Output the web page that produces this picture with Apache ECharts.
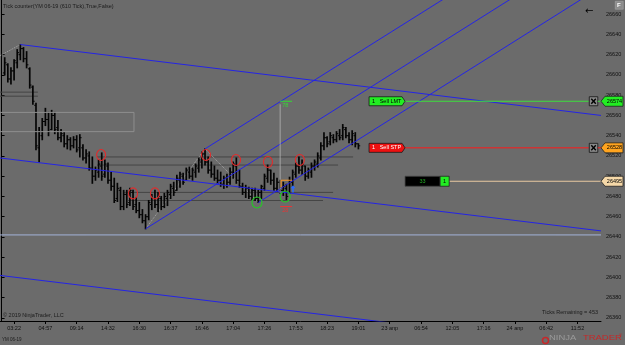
<!DOCTYPE html>
<html><head><meta charset="utf-8">
<script src="https://cdn.jsdelivr.net/npm/echarts@6/dist/echarts.min.js"></script>
<style>html,body{margin:0;padding:0;background:#6b6b6b;}#c{width:625px;height:345px;}</style>
</head><body><div id="c"></div>
<script>
// ---- axis ticks ----
const tickSlots = [4,14,24,34,44,54,64,74,84,94,104,114,124,134,144,154,164,174,184];
const tickLabels = ['03:22','04:57','09:14','14:32','16:30','16:37','16:46','17:04','17:26','17:53','18:23','19:01','23 апр','06:54','12:05','17:16','24 апр','06:42','11:52'];
const priceTicks = [26360,26380,26400,26420,26440,26460,26480,26500,26520,26540,26560,26580,26600,26620,26640,26660];

// ---- OHLC bars (610 tick), first bar sits in slot 1 ----
const firstSlot = 1;
const highs = [26617,26611,26607,26615,26625,26630,26627,26623,26607,26589,
26572,26548,26557,26567,26563,26565,26563,26555,26546,26543,
26540,26538,26539,26540,26541,26531,26526,26524,26519,26509,
26516,26523,26516,26513,26504,26498,26493,26489,26486,26486,
26488,26486,26479,26474,26467,26462,26476,26482,26486,26484,
26480,26483,26486,26492,26494,26501,26504,26503,26508,26509,
26508,26512,26518,26524,26527,26519,26514,26510,26506,26504,
26500,26502,26508,26514,26518,26506,26493,26491,26489,26488,
26488,26486,26491,26502,26511,26506,26503,26498,26496,26494,
26492,26499,26506,26513,26519,26516,26510,26508,26513,26516,
26523,26533,26543,26539,26543,26541,26544,26546,26551,26548,
26543,26545,26543,26532];
const lows = [26600,26593,26591,26595,26607,26615,26613,26607,26587,26571,
26526,26514,26536,26550,26540,26546,26542,26536,26534,26529,
26527,26526,26528,26524,26519,26516,26513,26506,26493,26496,
26499,26496,26499,26493,26486,26474,26475,26467,26467,26469,
26471,26467,26464,26459,26454,26448,26457,26467,26469,26465,
26467,26469,26471,26478,26481,26486,26489,26492,26496,26498,
26496,26499,26504,26508,26511,26503,26499,26496,26493,26490,
26488,26489,26492,26498,26493,26489,26482,26479,26478,26477,
26476,26474,26478,26486,26494,26492,26486,26485,26483,26481,
26477,26483,26489,26499,26503,26502,26496,26498,26499,26506,
26509,26516,26526,26529,26531,26533,26534,26536,26536,26538,
26533,26531,26529,26527];
const opens = [26602,26610,26596,26604,26612,26620,26626,26616,26606,26588,
26570,26528,26540,26554,26556,26546,26560,26548,26538,26540,
26532,26536,26530,26536,26528,26528,26518,26520,26508,26500,
26504,26510,26502,26510,26496,26490,26478,26486,26470,26482,
26474,26484,26472,26466,26462,26456,26460,26472,26478,26472,
26478,26470,26478,26482,26488,26486,26496,26500,26496,26504,
26500,26504,26508,26514,26522,26514,26506,26502,26498,26496,
26492,26498,26494,26504,26510,26496,26490,26484,26488,26480,
26486,26478,26484,26488,26498,26506,26496,26488,26494,26486,
26488,26484,26494,26502,26510,26506,26510,26500,26504,26510,
26512,26518,26530,26538,26534,26538,26536,26540,26540,26546,
26540,26536,26540,26532];
const closes = [26612,26596,26604,26614,26622,26626,26616,26610,26590,26574,
26530,26544,26554,26556,26544,26560,26546,26538,26542,26532,
26536,26530,26536,26526,26538,26518,26522,26508,26500,26506,
26512,26500,26512,26496,26490,26476,26488,26470,26482,26472,
26486,26470,26466,26462,26456,26460,26474,26478,26472,26480,
26470,26480,26484,26490,26484,26498,26502,26494,26506,26500,
26506,26510,26516,26522,26514,26506,26502,26498,26496,26492,
26498,26494,26504,26512,26496,26490,26484,26488,26480,26486,
26478,26484,26490,26500,26506,26496,26488,26494,26486,26490,
26480,26496,26504,26510,26506,26512,26500,26506,26510,26514,
26520,26530,26538,26532,26540,26536,26542,26538,26548,26540,
26536,26542,26532,26530];

// ---- drawn trend lines (slot, price) ----
const descChannel = [
  [[6,26630],[191.5,26560]],
  [[-0.5,26518],[191.5,26446]],
  [[-0.5,26402],[191.5,26330]]
];
const ascChannel = [
  [[65,26527],[150,26692]],
  [[46,26448],[175,26699]],
  [[82,26474],[190,26684]]
];
const zigzag = [
  [[-0.5,26619],[6,26630]],
  [[46,26448],[65,26527]],
  [[65,26527],[82,26474]]
];
const hLevels = [26583,26579,26519,26511,26484,26476];
const hFrom = [-0.5,-0.5,30.5,30.5,38.8,40.4];
const hTo = [11.6,11.6,112.3,107.5,105.9,102.7];
const zoneTop = 26563, zoneBottom = 26544, zoneEnd = 42.3;
const blueLevel = 26442;

// ---- swing markers ----
const redCircleSlots = [31.8,42,49,65.3,74.9,85.1,95.3];
const redCirclePrices = [26521,26483,26483,26521,26516,26514,26516];
const greenCircleSlots = [81.6,90.6];
const greenCirclePrices = [26474,26480];

// ---- orders / position ----
const lmtPrice = 26574, stpPrice = 26528, posPrice = 26495;
const posQty = '33';
const targetHigh = 26574, targetLow = 26470;

const FONT = 'Liberation Sans';
const chart = echarts.init(document.getElementById('c'));

function seg(pts, color, type, z){
  return {type:'line', data:pts, symbol:'none', silent:true, animation:false, z:z||4,
    lineStyle:{color:color, width:1, type:type||'solid'}};
}

function ohlc(params, api){
  const x = api.value(0);
  const pH = api.coord([x, api.value(2)]), pL = api.coord([x, api.value(3)]);
  const pO = api.coord([x, api.value(1)]), pC = api.coord([x, api.value(4)]);
  return {type:'group', children:[
    {type:'line', shape:{x1:pH[0],y1:pH[1]-0.5,x2:pL[0],y2:pL[1]+0.5}, style:{stroke:'#050505',lineWidth:1.7}},
    {type:'line', shape:{x1:pO[0]-1.8,y1:pO[1],x2:pO[0],y2:pO[1]}, style:{stroke:'#050505',lineWidth:1}},
    {type:'line', shape:{x1:pC[0],y1:pC[1],x2:pC[0]+1.8,y2:pC[1]}, style:{stroke:'#050505',lineWidth:1}}
  ]};
}

function txt(x,y,t,fill,size,align,extra){
  return Object.assign({type:'text', x:x, y:y, style:{text:t, fill:fill, fontSize:size||5.5, fontFamily:FONT, align:align||'left', verticalAlign:'middle'}}, extra||{});
}

function overlay(params, api){
  const ch = [];
  const c = p => api.coord(p);
  // zone rectangle
  const r1 = c([-0.5, zoneTop]), r2 = c([zoneEnd, zoneBottom]);
  ch.push({type:'rect', shape:{x:r1[0], y:r1[1], width:r2[0]-r1[0], height:r2[1]-r1[1]}, style:{fill:'none', stroke:'#8e8e8e', lineWidth:1}});
  // circles
  redCircleSlots.forEach((s,i)=>{ const p=c([s,redCirclePrices[i]]);
    ch.push({type:'ellipse', shape:{cx:p[0],cy:p[1],rx:4.5,ry:5.5}, style:{fill:'none', stroke:'#e42a2a', lineWidth:1.1}}); });
  greenCircleSlots.forEach((s,i)=>{ const p=c([s,greenCirclePrices[i]]);
    ch.push({type:'ellipse', shape:{cx:p[0],cy:p[1],rx:5,ry:5.5}, style:{fill:'none', stroke:'#22cc22', lineWidth:1.1}}); });
  // measuring tool
  const v1 = c([89, targetHigh-3]), v2 = c([89, 26483]);
  ch.push({type:'line', shape:{x1:v1[0],y1:v1[1],x2:v2[0],y2:v2[1]}, style:{stroke:'#b4b4b4', lineWidth:0.8}});
  const g1 = c([89, targetHigh]), g2 = c([92.8, targetHigh]);
  ch.push({type:'line', shape:{x1:g1[0],y1:g1[1],x2:g2[0],y2:g2[1]}, style:{stroke:'#33dd33', lineWidth:1}});
  ch.push(txt(g1[0]+2, g1[1]+4, '78', '#33dd33', 5.5));
  const q1 = c([89, targetLow]), q2 = c([92.8, targetLow]);
  ch.push({type:'line', shape:{x1:q1[0],y1:q1[1],x2:q2[0],y2:q2[1]}, style:{stroke:'#ee3333', lineWidth:1}});
  ch.push(txt(q1[0]+2, q1[1]+4, '28', '#ee3333', 5.5));
  const o1 = c([89.3, 26496]), o2 = c([92.8, 26496]), o3 = c([89.3, 26489]);
  ch.push({type:'polyline', shape:{points:[[o3[0],o3[1]],[o1[0],o1[1]],[o2[0],o2[1]]]}, style:{fill:'none', stroke:'#ff9922', lineWidth:1}});
  const a1 = c([93.1, 26484]), a2 = c([93.1, 26491]);
  ch.push({type:'line', shape:{x1:a1[0],y1:a1[1],x2:a1[0],y2:a2[1]+2}, style:{stroke:'#2a6cff', lineWidth:1.6}});
  ch.push({type:'polygon', shape:{points:[[a2[0]-2.5,a2[1]+3],[a2[0]+2.5,a2[1]+3],[a2[0],a2[1]]]}, style:{fill:'#2a6cff'}});

  // order lines
  const xL = c([117.4, 0])[0], xR = c([128.9, 0])[0], xX = c([187.6,0])[0], xAx = c([191.5,0])[0];
  function orderRow(price, fill, textFill, label, lineColor, tagFill){
    const y = c([0, price])[1];
    ch.push({type:'line', shape:{x1:xR, y1:y, x2:xX, y2:y}, style:{stroke:lineColor, lineWidth:1}});
    ch.push({type:'polygon', shape:{points:[[xL,y-4.5],[xR-3,y-4.5],[xR,y],[xR-3,y+4.5],[xL,y+4.5]]}, style:{fill:fill, stroke:'#1a1a1a', lineWidth:0.8}});
    ch.push(txt(xL+3, y, label, textFill, 5.5));
    ch.push({type:'rect', shape:{x:xX+0.5, y:y-4.5, width:8.5, height:9}, style:{fill:'#8a8a8a', stroke:'#111', lineWidth:0.8}});
    ch.push({type:'line', shape:{x1:xX+2.5,y1:y-2.5,x2:xX+7,y2:y+2.5}, style:{stroke:'#000', lineWidth:1.4}});
    ch.push({type:'line', shape:{x1:xX+7,y1:y-2.5,x2:xX+2.5,y2:y+2.5}, style:{stroke:'#000', lineWidth:1.4}});
    ch.push({type:'line', shape:{x1:xX+9,y1:y,x2:xAx,y2:y}, style:{stroke:lineColor, lineWidth:1}});
    priceTag(price, tagFill);
  }
  function priceTag(price, fill){
    const y = c([0, price])[1];
    ch.push({type:'polygon', shape:{points:[[xAx,y],[xAx+4,y-5],[xAx+22,y-5],[xAx+22,y+5],[xAx+4,y+5]]}, style:{fill:fill, stroke:'#222', lineWidth:0.8}});
    ch.push(txt(xAx+13.5, y, String(price), '#000', 5.5, 'center'));
  }
  orderRow(lmtPrice, '#22ee22', '#000', '1   Sell LMT', '#3ee03e', '#22ee22');
  orderRow(stpPrice, '#ee1111', '#fff', '1   Sell STP', '#ff1a1a', '#ffa41f');
  // position row
  const yp = c([0, posPrice])[1];
  const pb1 = c([128.9,0])[0], pb2 = c([140.1,0])[0], pb3 = c([143,0])[0];
  ch.push({type:'line', shape:{x1:pb3, y1:yp, x2:xAx, y2:yp}, style:{stroke:'#e9c9a1', lineWidth:1}});
  ch.push({type:'rect', shape:{x:pb1, y:yp-5, width:pb2-pb1, height:10}, style:{fill:'#000', stroke:'#444', lineWidth:0.8}});
  ch.push(txt((pb1+pb2)/2, yp, posQty, '#22aa22', 5.5, 'center'));
  ch.push({type:'rect', shape:{x:pb2, y:yp-5, width:pb3-pb2, height:10}, style:{fill:'#22ee22', stroke:'#222', lineWidth:0.8}});
  ch.push(txt((pb2+pb3)/2, yp, '1', '#000', 5.5, 'center'));
  priceTag(posPrice, '#f5d8a8');
  return {type:'group', children:ch};
}

const series = [];
hLevels.forEach((lv,i)=>series.push(seg([[hFrom[i],lv],[hTo[i],lv]], '#454545', 'solid', 1)));
series.push(seg([[-0.5,blueLevel],[191.5,blueLevel]], '#a2b2d8', 'solid', 1));
zigzag.forEach(z=>series.push(seg(z, '#a8a8a8', 'dotted', 2)));
series.push({type:'custom', renderItem:ohlc, data:highs.map((h,i)=>[firstSlot+i, opens[i], h, lows[i], closes[i]]),
  encode:{x:0, y:[1,2,3,4]}, z:3, silent:true, animation:false});
descChannel.forEach(l=>series.push(seg(l, '#2424e6', 'solid', 4)));
ascChannel.forEach(l=>series.push(seg(l, '#2424e6', 'solid', 4)));
series.push({type:'custom', renderItem:overlay, data:[[0,26500]], z:6, silent:true, animation:false, clip:false});

chart.setOption({
  animation:false,
  backgroundColor:'#6b6b6b',
  grid:{left:0, right:24, top:0, bottom:24, containLabel:false},
  xAxis:{type:'value', min:-0.5, max:191.5,
    axisLine:{show:true, onZero:false, lineStyle:{color:'#000', width:1}},
    axisTick:{show:true, customValues:tickSlots, length:3, lineStyle:{color:'#000'}},
    axisLabel:{customValues:tickSlots, formatter:v=>tickLabels[tickSlots.indexOf(v)], fontSize:5.5, fontFamily:FONT, color:'#111', margin:4.5, showMinLabel:true, showMaxLabel:true},
    splitLine:{show:false}},
  yAxis:{type:'value', position:'right', min:26357, max:26674,
    axisLine:{show:true, lineStyle:{color:'#000', width:1}},
    axisTick:{show:true, customValues:priceTicks, length:3, lineStyle:{color:'#000'}},
    axisLabel:{customValues:priceTicks, formatter:v=>String(v), fontSize:5.5, fontFamily:FONT, color:'#111', margin:5},
    splitLine:{show:false}},
  series:series,
  graphic:[
    {type:'text', left:3, top:3, style:{text:'Tick counter(YM 06-19 (610 Tick),True,False)', fill:'#1c1c1c', fontSize:5.5, fontFamily:FONT}},
    {type:'text', left:3, top:312, style:{text:'© 2019 NinjaTrader, LLC', fill:'#1c1c1c', fontSize:5.5, fontFamily:FONT}},
    {type:'text', right:27, top:309, style:{text:'Ticks Remaining = 453', fill:'#1c1c1c', fontSize:5.5, fontFamily:FONT}},
    {type:'text', left:2, top:337, style:{text:'YM 06-19', fill:'#1c1c1c', fontSize:4.5, fontFamily:FONT}},
    {type:'text', left:585, top:6, style:{text:'←', fill:'#000', fontSize:10, fontFamily:'DejaVu Sans'}},
    {type:'rect', left:615, top:1, shape:{width:8, height:8}, style:{fill:'#8c8c8c', stroke:'#aaa', lineWidth:0.5}},
    {type:'text', left:617, top:2, style:{text:'F', fill:'#fff', fontSize:6, fontFamily:FONT, fontWeight:'bold'}},
    {type:'circle', left:540, top:335, shape:{r:3}, style:{fill:'none', stroke:'#c8282a', lineWidth:1.5}},
    {type:'text', left:549, top:335, scaleX:1.45, style:{text:'NINJA', fill:'#9a9a9a', fontSize:6.5, fontFamily:FONT}},
    {type:'text', left:583, top:335, scaleX:1.45, style:{text:'TRADER', fill:'#c62828', fontSize:6.5, fontFamily:FONT}},
    {type:'text', left:619, top:333, style:{text:'®', fill:'#c62828', fontSize:4, fontFamily:FONT}}
  ]
});
</script></body></html>
